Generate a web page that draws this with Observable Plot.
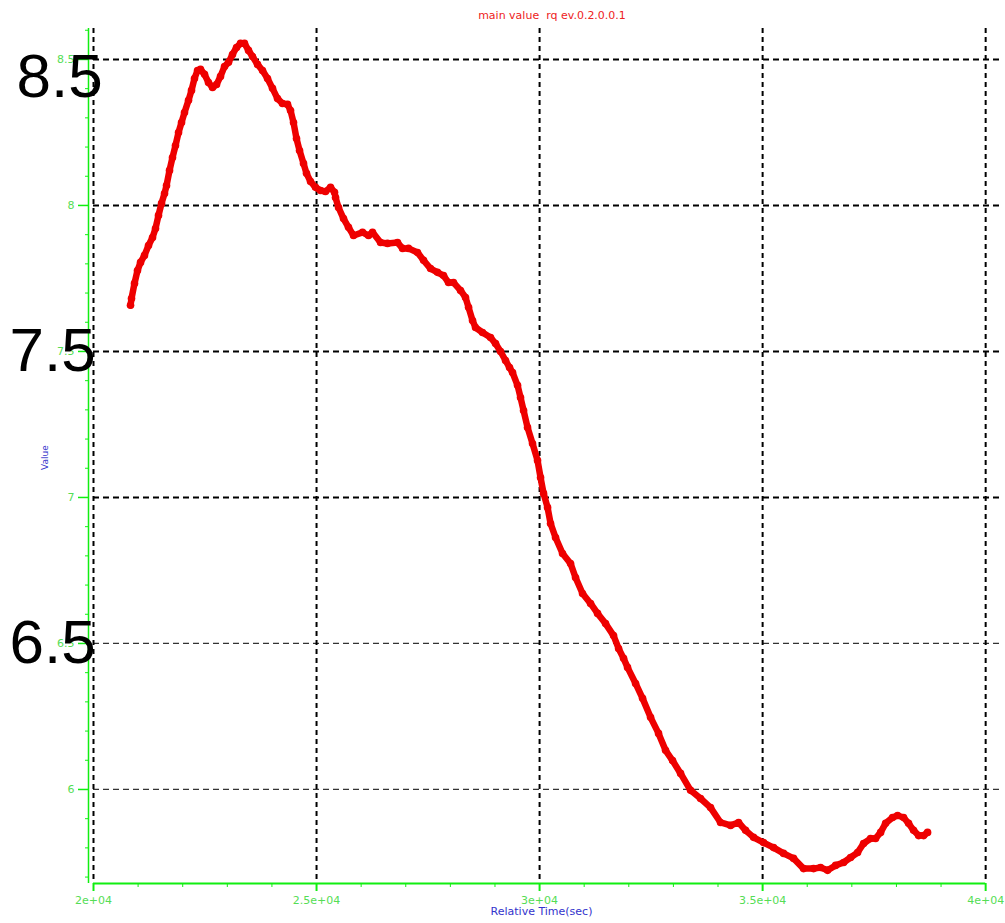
<!DOCTYPE html>
<html><head><meta charset="utf-8">
<script src="https://cdn.jsdelivr.net/npm/d3@7"></script>
<script src="https://cdn.jsdelivr.net/npm/@observablehq/plot@0.6"></script>
<style>
body{margin:0;background:#fff;}
#wrap{position:relative;width:1005px;height:923px;overflow:hidden;}
#title{position:absolute;top:9px;left:552px;transform:translateX(-50%);font:11px "DejaVu Sans";color:#ee2222;white-space:pre;line-height:13px;}
#chart{position:absolute;left:0;top:0;}
</style></head><body>
<div id="wrap"><div id="chart"></div><div id="title">main value  rq ev.0.2.0.0.1</div></div>
<script>
const times = [20830,20852,20919,20986,21054,21143,21233,21323,21390,21457,21525,21592,21637,21704,21771,21838,21906,21973,22040,22130,22197,22264,22332,22399,22489,22578,22668,22758,22847,22937,23027,23116,23206,23296,23385,23475,23565,23677,23789,23901,24013,24125,24237,24350,24417,24484,24551,24619,24708,24775,24865,24977,25089,25201,25314,25403,
25426,25493,25605,25717,25829,26031,26166,26255,26435,26591,26816,26928,27062,27264,27399,27556,27712,27847,27959,28071,28228,28340,28408,28497,28564,28721,28901,29013,29125,29237,29327,29394,29506,29573,29641,29730,29842,29954,30022,30089,30179,30246,30358,30515,30694,30806,30963,31143,31300,31479,31658,31771,31883,31972,32152,32309,32488,32667,32824,32981,33161,33385,33609,33833,34057,34282,34461,34618,34797,35021,35246,35470,35694,35918,36142,36299,36456,36636,36815,36972,37129,37263,37420,37532,37645,37757,37913,38026,38160,38272,38384,38497,38609,38698];
const values = [7.658,7.681,7.733,7.777,7.805,7.829,7.863,7.890,7.921,7.966,8.007,8.041,8.068,8.120,8.164,8.205,8.250,8.284,8.318,8.360,8.394,8.435,8.462,8.466,8.449,8.421,8.404,8.414,8.442,8.476,8.490,8.517,8.541,8.555,8.555,8.531,8.510,8.483,8.462,8.435,8.401,8.366,8.349,8.346,8.325,8.284,8.229,8.188,8.144,8.110,8.082,8.062,8.051,8.048,8.062,8.045,
8.027,7.993,7.955,7.925,7.897,7.908,7.897,7.908,7.873,7.870,7.873,7.853,7.853,7.839,7.812,7.784,7.771,7.760,7.736,7.736,7.709,7.685,7.651,7.606,7.582,7.565,7.548,7.527,7.500,7.469,7.445,7.428,7.384,7.342,7.298,7.240,7.185,7.127,7.068,7.014,6.966,6.911,6.863,6.808,6.774,6.726,6.671,6.637,6.603,6.568,6.527,6.483,6.449,6.418,6.363,6.312,6.247,6.192,6.134,6.099,6.055,5.997,5.969,5.938,5.887,5.877,5.887,5.860,5.836,5.818,5.801,5.781,5.764,5.729,5.729,5.733,5.723,5.740,5.750,5.767,5.784,5.815,5.832,5.832,5.853,5.884,5.904,5.911,5.904,5.884,5.860,5.842,5.842,5.853];

const xMajor = [20000,25000,30000,35000,40000];
const xLabels = ["2e+04","2.5e+04","3e+04","3.5e+04","4e+04"];
const xMinor = [21000,22000,23000,24000,26000,27000,28000,29000,31000,32000,33000,34000,36000,37000,38000,39000];
const yMajor = [6,6.5,7,7.5,8,8.5];
const yMinor = [5.7,5.8,5.9,6.1,6.2,6.3,6.4,6.6,6.7,6.8,6.9,7.1,7.2,7.3,7.4,7.6,7.7,7.8,7.9,8.1,8.2,8.3,8.4,8.6];
const gridStrong = [7,7.5,8,8.5];
const gridLight = [6,6.5];
const bigLabelTop = ["8.5"];
const bigLabels = ["7.5","6.5"];
const xDomain = [20000,40400];
const yDomain = [5.678,8.606];

const data = times.map((t,i)=>({t, v: values[i]}));
const green = "#11ee11";
const labelGreen = "#55dd55";
const blue = "#3333cc";

const chart = Plot.plot({
  width: 1005, height: 923,
  marginLeft: 93, marginRight: 2, marginTop: 28, marginBottom: 40,
  style: {fontFamily: "DejaVu Sans", fontSize: "11px", background: "#fff"},
  x: {domain: xDomain},
  y: {domain: yDomain},
  marks: [
    Plot.ruleY(gridStrong, {x1: xDomain[0], x2: xDomain[1], stroke: "#000", strokeWidth: 2, strokeDasharray: "6,4"}),
    Plot.ruleY(gridLight, {x1: xDomain[0], x2: xDomain[1], stroke: "#333", strokeWidth: 1.2, strokeDasharray: "6,4"}),
    Plot.ruleX(xMajor, {stroke: "#000", strokeWidth: 2, strokeDasharray: "5,4"}),
    Plot.ruleX([xDomain[0]], {dx: -5, stroke: green, strokeWidth: 1.5}),
    Plot.ruleY([yDomain[0]], {x1: xMajor[0], x2: xMajor[xMajor.length-1], stroke: green, strokeWidth: 2}),
    Plot.axisY(yMajor, {tickSize: 10, tickPadding: 4, dx: -5, stroke: green, strokeWidth: 1.5, fill: labelGreen, fontSize: 11, tickFormat: d => String(d), label: null}),
    Plot.axisY(yMinor, {tickSize: 3, dx: -5, stroke: green, tickFormat: () => "", label: null}),
    Plot.axisX(xMajor, {tickSize: 8, tickPadding: 5, stroke: green, strokeWidth: 2, fill: labelGreen, fontSize: 11, tickFormat: d => xLabels[xMajor.indexOf(d)], label: null}),
    Plot.axisX(xMinor, {tickSize: 4, stroke: green, tickFormat: () => "", label: null}),
    Plot.text(["Value"], {frameAnchor: "left", dx: -48, dy: 14, rotate: -90, fill: blue, fontSize: 9}),
    Plot.text(["Relative Time(sec)"], {frameAnchor: "bottom", dx: -7, dy: 31, fill: blue, fontSize: 11}),
    Plot.line(data, {x: "t", y: "v", stroke: "#ee0000", strokeWidth: 6.5, strokeLinejoin: "round", strokeLinecap: "round"}),
    Plot.dot(data, {x: "t", y: "v", r: 3.8, fill: "#ee0000"}),
    Plot.text(bigLabelTop, {y: d => +d, text: d => d, frameAnchor: "left", textAnchor: "start", dx: -77, dy: 18, fontSize: 62, fontFamily: "Liberation Sans", fill: "#000"}),
    Plot.text(bigLabels, {y: d => +d, text: d => d, frameAnchor: "left", textAnchor: "start", dx: -84, fontSize: 62, fontFamily: "Liberation Sans", fill: "#000"})
  ]
});
document.getElementById("chart").appendChild(chart);
</script>
</body></html>
